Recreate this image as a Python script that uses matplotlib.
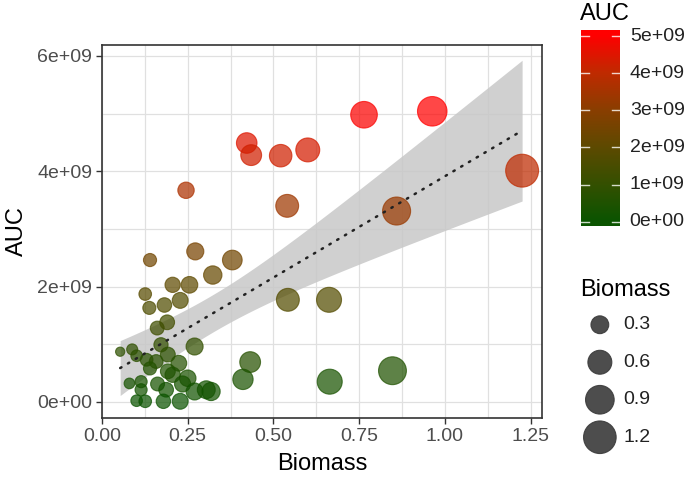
import matplotlib
matplotlib.use("Agg")
import matplotlib.pyplot as plt
import numpy as np
from matplotlib.colors import LinearSegmentedColormap, Normalize

plt.rcParams['font.family'] = ['Liberation Sans', 'DejaVu Sans']

# biomass (x and point size) and AUC (y and colour)
biomass = [0.422, 0.435, 0.521, 0.600, 0.245, 0.540, 0.764, 0.963, 1.225, 0.859,
           0.140, 0.272, 0.380, 0.323, 0.206, 0.255, 0.126, 0.138, 0.182, 0.228,
           0.542, 0.662, 0.190, 0.161,
           0.270, 0.053, 0.088, 0.101, 0.130, 0.172, 0.192, 0.158, 0.140, 0.224,
           0.192, 0.206, 0.250, 0.432, 0.411, 0.664, 0.847, 0.080, 0.114, 0.114,
           0.162, 0.187, 0.235, 0.270, 0.304, 0.318, 0.101, 0.126, 0.179, 0.228]
auc = [4.49, 4.28, 4.27, 4.37, 3.67, 3.40, 4.98, 5.04, 4.01, 3.31,
       2.46, 2.61, 2.46, 2.20, 2.03, 2.03, 1.87, 1.63, 1.68, 1.76,
       1.77, 1.77, 1.38, 1.28,
       0.96, 0.87, 0.91, 0.80, 0.73, 0.99, 0.82, 0.70, 0.58, 0.67,
       0.53, 0.47, 0.41, 0.69, 0.39, 0.35, 0.54, 0.32, 0.35, 0.21,
       0.31, 0.21, 0.31, 0.18, 0.21, 0.18, 0.02, 0.01, 0.01, 0.01]
auc_scale = 1e9

size_breaks = [0.3, 0.6, 0.9, 1.2]
auc_breaks = [0, 1, 2, 3, 4, 5]

x = np.array(biomass)
y = np.array(auc) * auc_scale

# green -> red gradient, colours picked from the colour bar
cmap = LinearSegmentedColormap.from_list(
    'auc', ['#0b5400', '#355000', '#5e4a00', '#8a3e00', '#c02a00', '#ff0000'])
norm = Normalize(y.min(), y.max())


def pt_size(b):
    r_px = 1.5 + 13.5 * np.sqrt(np.asarray(b))
    return (2 * r_px * 0.72) ** 2


fig = plt.figure(figsize=(6.88, 4.79), dpi=100)
ax = fig.add_axes([102 / 688, 1 - 418 / 479, 440 / 688, 373 / 479])

# linear fit with 95% band
n = len(x)
slope, icpt = np.polyfit(x, y, 1)
xs = np.linspace(x.min(), x.max(), 100)
fit = icpt + slope * xs
resid = y - (icpt + slope * x)
s = np.sqrt(np.sum(resid ** 2) / (n - 2))
se = s * np.sqrt(1 / n + (xs - x.mean()) ** 2 / np.sum((x - x.mean()) ** 2))
tval = 2.007
ax.fill_between(xs, fit - tval * se, fit + tval * se, color='#c8c8c8', alpha=0.85, lw=0, zorder=2)

cols = cmap(norm(y))
ax.scatter(x, y, s=pt_size(x), c=cols, edgecolors=cols, linewidths=0.8, alpha=0.72, zorder=3)
ax.plot(xs, fit, color='#222222', lw=1.8, linestyle=(0, (0.6, 3.0)), dash_capstyle='round', zorder=4)

ax.set_xlim(0, 1.283)
ax.set_ylim(-0.28e9, 6.19e9)
ax.set_xticks([0, 0.25, 0.5, 0.75, 1.0, 1.25])
ax.set_xticklabels(['0.00', '0.25', '0.50', '0.75', '1.00', '1.25'])
ax.set_xticks(np.arange(0.125, 1.28, 0.25), minor=True)
ax.set_yticks([0, 2e9, 4e9, 6e9])
ax.set_yticklabels(['0e+00', '2e+09', '4e+09', '6e+09'])
ax.set_yticks([1e9, 3e9, 5e9], minor=True)
ax.grid(True, which='both', color='#e0e0e0', lw=0.9, zorder=0)
ax.set_axisbelow(True)
ax.tick_params(which='major', length=4, width=1, color='#333333', labelcolor='#4d4d4d', labelsize=14, pad=3)
ax.tick_params(which='minor', length=0)
for sp in ax.spines.values():
    sp.set_color('#333333')
    sp.set_linewidth(1.2)
ax.set_xlabel('Biomass', fontsize=17, labelpad=6)
ax.set_ylabel('AUC', fontsize=17, labelpad=7)

# colour bar
cax = fig.add_axes([581 / 688, 1 - 226 / 479, 39 / 688, 196 / 479])
pad = (y.max() - y.min()) / 40
grad = np.linspace(y.min() - pad, y.max() + pad, 300)
cax.imshow(grad[:, None], extent=[0, 1, grad[0], grad[-1]], origin='lower', aspect='auto', cmap=cmap, norm=norm)
cax.set_xlim(0, 1)
cax.set_ylim(grad[0], grad[-1])
for v in auc_breaks:
    cax.plot([0, 0.2], [v * auc_scale] * 2, color='white', lw=1, alpha=0.8)
    cax.plot([0.8, 1], [v * auc_scale] * 2, color='white', lw=1, alpha=0.8)
    cax.text(1.25, v * auc_scale, '%de+%02d' % (v, 9 if v else 0), va='center', ha='left',
             fontsize=14, color='#222222', transform=cax.transData)
cax.set_xticks([])
cax.set_yticks([])
for sp in cax.spines.values():
    sp.set_visible(False)
fig.text(580 / 688, 1 - 14 / 479, 'AUC', fontsize=17, ha='left', va='center')

# size legend
lax = fig.add_axes([575 / 688, 1 - 456 / 479, 113 / 688, 150 / 479])
lax.set_xlim(0, 1)
lax.set_ylim(3.5, -0.5)
lax.scatter([0.22] * 4, range(4), s=pt_size(size_breaks), color='#3a3a3a', alpha=0.9, edgecolors='#3a3a3a', linewidths=0.8)
for i, b in enumerate(size_breaks):
    lax.text(0.425, i, str(b), va='center', ha='left', fontsize=14, color='#222222')
lax.axis('off')
fig.text(580 / 688, 1 - 290 / 479, 'Biomass', fontsize=17, ha='left', va='center')

fig.savefig('out.png', dpi=100)
